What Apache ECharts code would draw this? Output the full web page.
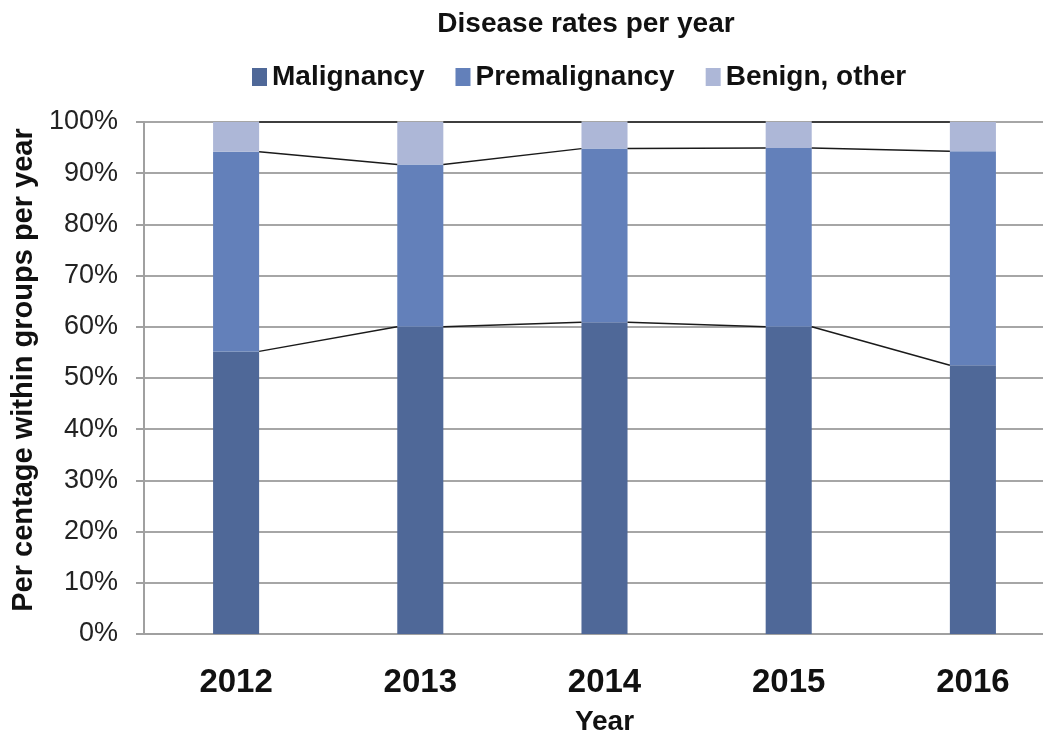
<!DOCTYPE html>
<html>
<head>
<meta charset="utf-8">
<script src="https://cdn.jsdelivr.net/npm/echarts@6/dist/echarts.min.js"></script>
<style>
html,body{margin:0;padding:0;background:#fff;}
#chart{width:1043px;height:740px;}
</style>
</head>
<body>
<div id="chart"></div>
<script>
var years = ['2012', '2013', '2014', '2015', '2016'];
var malignancy = [55.2, 60.0, 60.9, 60.0, 52.5];
var premalignancy = [39.0, 31.7, 33.9, 34.9, 41.8];
var benign = [5.8, 8.3, 5.2, 5.1, 5.7];
var yTicks = [0, 10, 20, 30, 40, 50, 60, 70, 80, 90, 100];

var colors = ['#4f6898', '#6380ba', '#adb7d7'];
var barFrac = 0.25;

// cumulative tops of each stacked segment
var top1 = malignancy.slice();
var top2 = malignancy.map(function (v, i) { return v + premalignancy[i]; });
var top3 = top2.map(function (v, i) { return v + benign[i]; });

function seriesLineData(tops) {
  var d = [];
  for (var i = 0; i < tops.length - 1; i++) d.push([i, tops[i], tops[i + 1]]);
  return d;
}

function seriesLine(tops) {
  return {
    type: 'custom',
    silent: true,
    z: 5,
    data: seriesLineData(tops),
    renderItem: function (params, api) {
      var i = api.value(0);
      var half = api.size([1, 0])[0] * barFrac / 2;
      var p1 = api.coord([i, api.value(1)]);
      var p2 = api.coord([i + 1, api.value(2)]);
      return {
        type: 'line',
        shape: { x1: p1[0] + half, y1: p1[1], x2: p2[0] - half, y2: p2[1] },
        style: { stroke: '#1a1a1a', lineWidth: 1.5 }
      };
    }
  };
}

var chart = echarts.init(document.getElementById('chart'), null, { renderer: 'canvas' });
var font = '"Liberation Sans", Arial, sans-serif';
chart.setOption({
  animation: false,
  color: colors,
  title: {
    text: 'Disease rates per year',
    left: 581, textAlign: 'center',
    top: 5,
    textStyle: { fontFamily: font, fontSize: 28, fontWeight: 'bold', color: '#111' }
  },
  legend: {
    top: 58,
    left: 247,
    itemWidth: 15, itemHeight: 18,
    itemGap: 31,
    icon: 'rect',
    textStyle: { fontFamily: font, fontSize: 28, fontWeight: 'bold', color: '#111' },
    data: ['Malignancy', 'Premalignancy', 'Benign, other']
  },
  grid: { left: 144, right: -22, top: 122, bottom: 106, containLabel: false, outerBoundsMode: 'none' },
  xAxis: {
    type: 'category',
    data: years,
    name: 'Year',
    nameLocation: 'middle',
    nameGap: 74,
    nameTextStyle: { fontFamily: font, fontSize: 28, fontWeight: 'bold', color: '#111' },
    axisLine: { lineStyle: { color: '#a0a0a0', width: 2 } },
    axisTick: { show: false },
    axisLabel: { margin: 32, fontFamily: font, fontSize: 33, fontWeight: 'bold', color: '#111' }
  },
  yAxis: {
    type: 'value',
    min: yTicks[0], max: yTicks[yTicks.length - 1], interval: 10,
    name: 'Per centage within groups per year',
    nameLocation: 'middle',
    nameGap: 100,
    nameTextStyle: { fontFamily: font, fontSize: 29, fontWeight: 'bold', color: '#111', padding: [0, 0, 0, 16] },
    axisLine: { show: true, lineStyle: { color: '#a0a0a0', width: 2 } },
    axisTick: { show: true, length: 8, lineStyle: { color: '#a0a0a0', width: 2 } },
    axisLabel: { margin: 26, fontFamily: font, fontSize: 27, color: '#222', formatter: '{value}%' },
    splitLine: { lineStyle: { color: '#a6a6a6', width: 2 } }
  },
  series: [
    { name: 'Malignancy', type: 'bar', stack: 'all', barWidth: '25%', data: malignancy, itemStyle: { color: colors[0] } },
    { name: 'Premalignancy', type: 'bar', stack: 'all', barWidth: '25%', data: premalignancy, itemStyle: { color: colors[1] } },
    { name: 'Benign, other', type: 'bar', stack: 'all', barWidth: '25%', data: benign, itemStyle: { color: colors[2] } },
    seriesLine(top1),
    seriesLine(top2),
    seriesLine(top3)
  ]
});
</script>
</body>
</html>
